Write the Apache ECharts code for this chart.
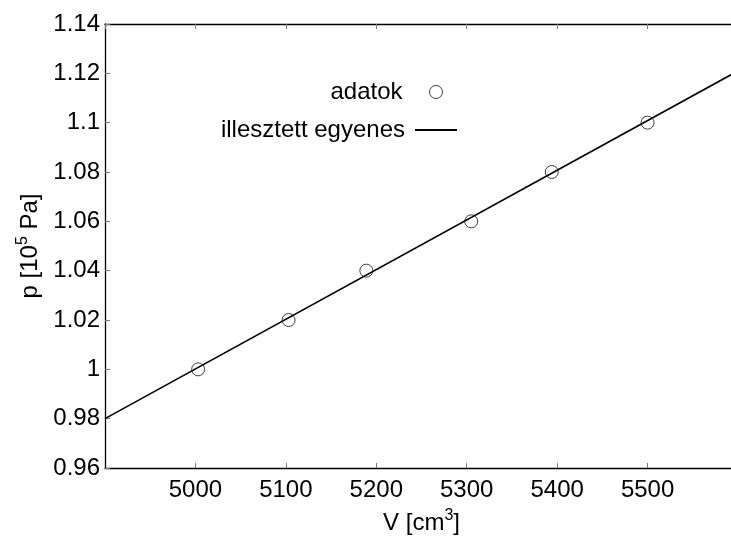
<!DOCTYPE html>
<html>
<head>
<meta charset="utf-8">
<script src="https://cdn.jsdelivr.net/npm/echarts@6/dist/echarts.min.js"></script>
<style>
  html, body { margin: 0; padding: 0; background: #fff; overflow: hidden; }
  #chart { width: 731px; height: 537px; }
</style>
</head>
<body>
<div id="chart"></div>
<script>
// mért adatok (V cm^3, p 10^5 Pa)
const volumes = [5003, 5103, 5189, 5305, 5394, 5500];
const pressures = [1.00, 1.02, 1.04, 1.06, 1.08, 1.10];
// illesztett egyenes két végpontja
const fitX = [4900, 5600];
const fitY = [0.98, 1.121];

const xMin = 4900, xMax = 5600, xStep = 100;
const yMin = 0.96, yMax = 1.14, yStep = 0.02;

const font = '"Liberation Sans", Helvetica, Arial, sans-serif';
const fontSize = 24;

const chart = echarts.init(document.getElementById('chart'));

const tickStyle = { show: true, inside: true, length: 5, lineStyle: { color: '#777', width: 1 } };
const lineStyle = { color: '#000', width: 1.3 };
const supStyle = { fontSize: 16, padding: [0, 0, 14, 0], fontFamily: font, color: '#000' };
// átlátszó kitöltésű kör, hogy az egyenes átlátsszon rajta
const ringStyle = { color: 'rgba(0,0,0,0)', borderColor: '#111', borderWidth: 1 };

chart.setOption({
  animation: false,
  backgroundColor: '#fff',
  textStyle: { fontFamily: font, color: '#000' },
  // a jobb oldali 5600-as határ kilóg a képből
  grid: { left: 105, width: 633, top: 24, bottom: 69, outerBoundsMode: 'none', containLabel: false },
  legend: [
    {
      data: [{ name: 'adatok', icon: 'circle' }],
      right: 283,
      top: 75,
      align: 'right',
      itemWidth: 13,
      itemHeight: 13,
      selectedMode: false,
      textStyle: { fontSize: fontSize, color: '#000', fontFamily: font, padding: [0, 22, 0, 0] },
      itemStyle: ringStyle
    },
    {
      data: [{ name: 'illesztett egyenes', icon: 'rect' }],
      right: 269,
      top: 113,
      align: 'right',
      itemWidth: 42,
      itemHeight: 2,
      selectedMode: false,
      textStyle: { fontSize: fontSize, color: '#000', fontFamily: font, padding: [0, 5, 0, 0] },
      itemStyle: { color: '#000' },
      lineStyle: { width: 0 }
    }
  ],
  xAxis: [
    {
      type: 'value',
      min: xMin, max: xMax, interval: xStep,
      position: 'bottom',
      name: 'V [cm{sup|3}]',
      nameLocation: 'middle',
      nameGap: 40,
      nameTextStyle: { fontSize: fontSize, color: '#000', fontFamily: font, rich: { sup: supStyle } },
      axisLine: { show: true, lineStyle: lineStyle },
      axisTick: tickStyle,
      splitLine: { show: false },
      axisLabel: {
        fontSize: fontSize, color: '#000', fontFamily: font, margin: 10,
        showMinLabel: false, showMaxLabel: false,
        formatter: v => String(v)
      }
    },
    {
      type: 'value',
      min: xMin, max: xMax, interval: xStep,
      position: 'top',
      axisLine: { show: true, lineStyle: lineStyle },
      axisTick: tickStyle,
      splitLine: { show: false },
      axisLabel: { show: false }
    }
  ],
  yAxis: [
    {
      type: 'value',
      min: yMin, max: yMax, interval: yStep,
      position: 'left',
      name: 'p [10{sup|5} Pa]',
      nameLocation: 'middle',
      nameGap: 60,
      nameTextStyle: { fontSize: fontSize, color: '#000', fontFamily: font, rich: { sup: supStyle } },
      axisLine: { show: true, lineStyle: lineStyle },
      axisTick: tickStyle,
      splitLine: { show: false },
      axisLabel: { fontSize: fontSize, color: '#000', fontFamily: font, margin: 5 }
    }
  ],
  series: [
    {
      name: 'illesztett egyenes',
      type: 'line',
      data: fitX.map((x, i) => [x, fitY[i]]),
      showSymbol: false,
      symbol: 'none',
      lineStyle: { color: '#000', width: 1.6 },
      itemStyle: { color: '#000' },
      z: 2
    },
    {
      name: 'adatok',
      type: 'scatter',
      data: volumes.map((v, i) => [v, pressures[i]]),
      symbol: 'circle',
      symbolSize: 13,
      itemStyle: ringStyle,
      z: 3
    }
  ]
});
</script>
</body>
</html>
